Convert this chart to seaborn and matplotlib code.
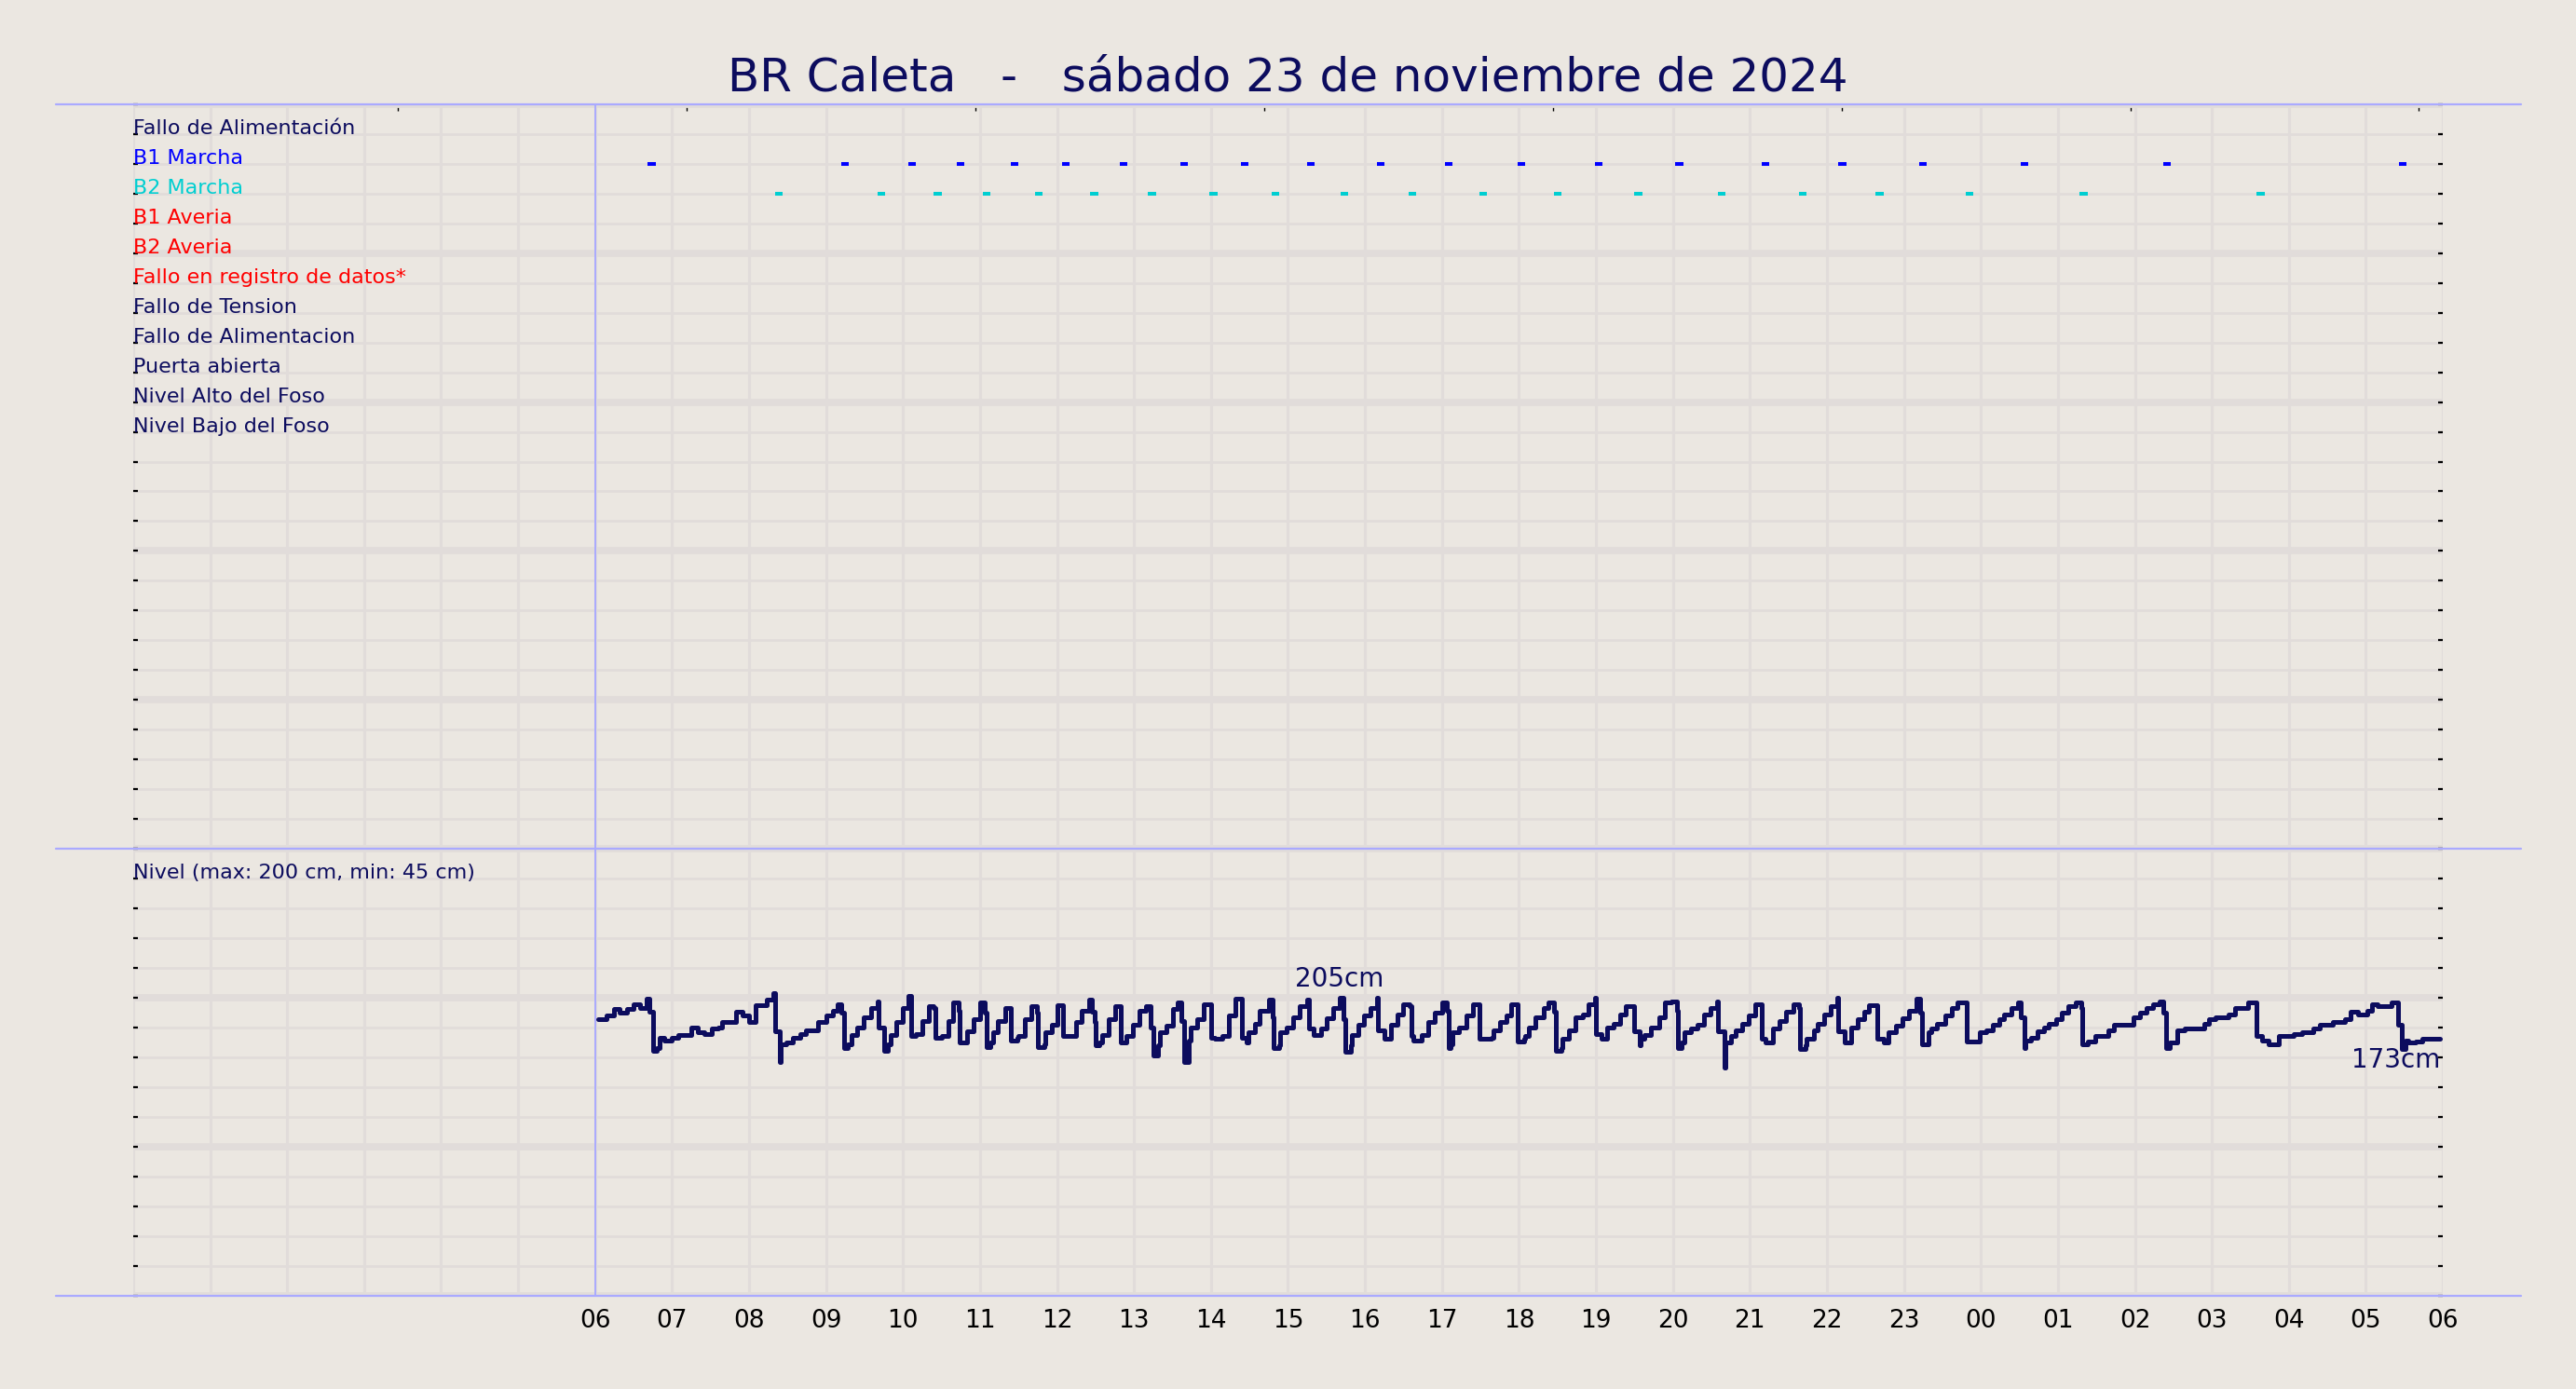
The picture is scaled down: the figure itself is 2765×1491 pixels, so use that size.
import numpy as np
import pandas as pd
import matplotlib
matplotlib.use('Agg')
import matplotlib.pyplot as plt
from matplotlib.lines import Line2D
import seaborn as sns

BG = '#ebe7e1'
GRID = '#e1dcda'
NAVY = '#0c0c5e'
LIGHT_BLUE = '#aaaaff'

title = 'BR Caleta   -   sábado 23 de noviembre de 2024'

signal_names = ['Fallo de Alimentación', 'B1 Marcha', 'B2 Marcha', 'B1 Averia', 'B2 Averia',
                'Fallo en registro de datos*', 'Fallo de Tension', 'Fallo de Alimentacion',
                'Puerta abierta', 'Nivel Alto del Foso', 'Nivel Bajo del Foso']
signal_colors = [NAVY, 'blue', 'darkturquoise', 'red', 'red', 'red',
                 NAVY, NAVY, NAVY, NAVY, NAVY]

# pump run starts (HH:MM), each run ~6 min
b1_starts = ['06:41', '09:12', '10:04', '10:42', '11:24', '12:04', '12:49', '13:36', '14:23',
             '15:15', '16:09', '17:02', '17:59', '18:59', '20:02', '21:09', '22:09', '23:12',
             '00:31', '02:22', '05:26']
b2_starts = ['08:20', '09:40', '10:24', '11:02', '11:43', '12:26', '13:11', '13:59', '14:47',
             '15:41', '16:34', '17:29', '18:27', '19:30', '20:35', '21:38', '22:38', '23:48',
             '01:17', '03:35']
run_minutes = 6

level_times = [
    '06:02', '06:09', '06:15', '06:19', '06:25', '06:30', '06:35', '06:40', '06:42', '06:45',
    '06:48', '06:50', '06:54', '07:00', '07:05', '07:15', '07:20', '07:25', '07:31', '07:36',
    '07:39', '07:50', '07:55', '08:00', '08:05', '08:14', '08:19', '08:20', '08:24', '08:25',
    '08:29', '08:34', '08:40', '08:44', '08:54', '09:00', '09:05', '09:09', '09:12', '09:14',
    '09:17', '09:20', '09:24', '09:29', '09:35', '09:40', '09:41', '09:45', '09:48', '09:50',
    '09:55', '10:00', '10:04', '10:06', '10:10', '10:15', '10:20', '10:24', '10:25', '10:30',
    '10:35', '10:39', '10:43', '10:44', '10:50', '10:55', '11:00', '11:04', '11:05', '11:08',
    '11:10', '11:14', '11:20', '11:24', '11:29', '11:30', '11:35', '11:40', '11:44', '11:45',
    '11:50', '11:51', '11:56', '12:00', '12:05', '12:15', '12:19', '12:25', '12:27', '12:29',
    '12:30', '12:33', '12:35', '12:40', '12:45', '12:50', '12:54', '12:59', '13:04', '13:09',
    '13:13', '13:15', '13:19', '13:20', '13:25', '13:30', '13:34', '13:37', '13:39', '13:43',
    '13:44', '13:49', '13:54', '14:00', '14:03', '14:09', '14:14', '14:19', '14:24', '14:28',
    '14:29', '14:34', '14:38', '14:45', '14:48', '14:49', '14:53', '14:54', '14:59', '15:04',
    '15:09', '15:15', '15:16', '15:20', '15:26', '15:30', '15:35', '15:40', '15:43', '15:45',
    '15:49', '15:50', '15:55', '15:59', '16:04', '16:09', '16:10', '16:15', '16:20', '16:25',
    '16:30', '16:35', '16:36', '16:38', '16:44', '16:49', '16:54', '17:00', '17:04', '17:05',
    '17:07', '17:08', '17:13', '17:19', '17:24', '17:29', '17:39', '17:40', '17:45', '17:50',
    '17:54', '17:59', '18:04', '18:05', '18:08', '18:13', '18:19', '18:23', '18:27', '18:29',
    '18:33', '18:34', '18:39', '18:44', '18:50', '18:54', '18:59', '19:00', '19:04', '19:09',
    '19:14', '19:19', '19:23', '19:30', '19:34', '19:35', '19:38', '19:43', '19:49', '19:54',
    '19:59', '20:03', '20:04', '20:07', '20:09', '20:14', '20:19', '20:24', '20:29', '20:34',
    '20:35', '20:40', '20:41', '20:45', '20:49', '20:54', '20:59', '21:04', '21:09', '21:12',
    '21:18', '21:23', '21:28', '21:34', '21:38', '21:39', '21:43', '21:44', '21:50', '21:53',
    '21:58', '22:03', '22:08', '22:09', '22:14', '22:19', '22:24', '22:29', '22:33', '22:39',
    '22:44', '22:48', '22:54', '22:59', '23:04', '23:10', '23:13', '23:14', '23:19', '23:21',
    '23:26', '23:32', '23:37', '23:42', '23:49', '23:59', '00:04', '00:09', '00:14', '00:18',
    '00:24', '00:29', '00:31', '00:34', '00:35', '00:39', '00:44', '00:49', '00:53', '00:59',
    '01:03', '01:08', '01:14', '01:18', '01:19', '01:23', '01:29', '01:39', '01:44', '01:59',
    '02:04', '02:09', '02:14', '02:19', '02:22', '02:24', '02:27', '02:33', '02:39', '02:54',
    '02:58', '03:03', '03:13', '03:18', '03:28', '03:35', '03:39', '03:44', '03:52', '04:04',
    '04:10', '04:19', '04:24', '04:34', '04:44', '04:48', '04:54', '05:01', '05:05', '05:09',
    '05:20', '05:25', '05:28', '05:31', '05:33', '05:39', '05:44', '05:58']
level_cm = [
    188, 191, 196, 193, 196, 200, 197, 204, 194, 164,
    166, 174, 172, 174, 176, 182, 178, 177, 181, 182,
    186, 194, 191, 186, 199, 203, 208, 179, 155, 169,
    170, 174, 177, 180, 186, 191, 195, 200, 193, 166,
    169, 176, 182, 190, 197, 202, 182, 164, 169, 176,
    186, 197, 206, 175, 177, 187, 198, 197, 174, 175,
    187, 201, 195, 170, 179, 188, 201, 193, 167, 170,
    178, 187, 197, 172, 174, 175, 188, 198, 193, 167,
    169, 178, 184, 199, 175, 186, 195, 203, 194, 186,
    168, 170, 176, 188, 198, 170, 175, 184, 195, 198,
    182, 160, 168, 178, 183, 196, 201, 187, 155, 172,
    182, 188, 200, 174, 173, 175, 191, 204, 174, 170,
    178, 185, 195, 203, 190, 166, 168, 178, 182, 190,
    198, 203, 181, 176, 181, 189, 197, 205, 188, 163,
    168, 176, 184, 191, 197, 205, 180, 173, 184, 192,
    200, 198, 175, 172, 176, 186, 193, 201, 195, 166,
    169, 178, 182, 191, 200, 173, 174, 180, 186, 191,
    200, 171, 173, 175, 182, 190, 197, 201, 194, 164,
    166, 173, 180, 190, 192, 200, 205, 177, 173, 182,
    185, 192, 198, 179, 168, 173, 176, 182, 190, 201,
    202, 195, 166, 170, 178, 181, 184, 192, 197, 202,
    179, 151, 170, 175, 180, 185, 191, 200, 173, 170,
    181, 187, 194, 200, 197, 165, 168, 173, 180, 185,
    192, 198, 205, 179, 170, 182, 188, 194, 199, 173,
    170, 178, 183, 189, 195, 204, 193, 169, 178, 181,
    185, 191, 197, 201, 171, 178, 180, 184, 188, 192,
    197, 201, 190, 166, 172, 174, 179, 182, 185, 188,
    193, 198, 201, 197, 169, 171, 175, 180, 184, 190,
    193, 197, 200, 202, 193, 166, 170, 180, 181, 185,
    188, 190, 192, 197, 201, 175, 172, 169, 175, 177,
    178, 181, 184, 186, 188, 194, 192, 195, 200, 198,
    201, 184, 165, 172, 170, 171, 173, 173]

peak_label_time = '15:40'
level_caption = 'Nivel (max: 200 cm, min: 45 cm)'

hour_ticks = list(range(6, 31))
hour_labels = ['06', '07', '08', '09', '10', '11', '12', '13', '14', '15', '16', '17', '18',
               '19', '20', '21', '22', '23', '00', '01', '02', '03', '04', '05', '06']
top_tick_hours = [3.44, 7.19, 10.94, 14.69, 18.44, 22.19, 25.94, 29.69]


def to_hours(t):
    h, m = (int(v) for v in t.split(':'))
    if h < 6:
        h += 24
    return h + m / 60


sns.set_style('white', rc={'axes.facecolor': BG, 'figure.facecolor': BG,
                           'grid.color': GRID, 'axes.edgecolor': BG})

fig = plt.figure(figsize=(13.825, 7.455), dpi=200)
ax1 = fig.add_axes([0.0517, 0.3890, 0.8966, 0.5359])
ax2 = fig.add_axes([0.0517, 0.0671, 0.8966, 0.3219])

n_rows_top = 25
n_rows_bot = 15
level_lim = (-24, 319)
rows_bot = np.linspace(level_lim[1], level_lim[0], n_rows_bot + 1)

for ax in (ax1, ax2):
    ax.set_xlim(0, 30)
    ax.set_xticks(np.arange(0, 31), minor=True)
    ax.xaxis.remove_overlapping_locs = False
    ax.set_axisbelow(True)
    for s in ax.spines.values():
        s.set_visible(False)
    ax.grid(which='minor', axis='x', color=GRID, lw=1.1)
    ax.grid(which='minor', axis='y', color=GRID, lw=1.0)
    ax.grid(which='major', axis='y', color=GRID, lw=2.8)
    ax.grid(which='major', axis='x', visible=False)
    ax.tick_params(axis='y', which='both', direction='in', left=True, right=True,
                   length=1.8, width=0.8, color='black', labelleft=False, labelright=False)
    ax.tick_params(axis='x', which='minor', length=0)
    ax.axvline(6, color=LIGHT_BLUE, lw=0.7, zorder=1)

# top panel: signals
ax1.set_ylim(n_rows_top, 0)
ax1.set_yticks(np.arange(0, n_rows_top + 1, 5))
ax1.set_yticks(np.arange(0, n_rows_top + 1), minor=True)
ax1.set_xticks(top_tick_hours)
ax1.tick_params(axis='x', which='major', top=True, bottom=False, direction='in',
                length=2.5, width=0.5, color='black', labeltop=False, labelbottom=False)

for i, (name, col) in enumerate(zip(signal_names, signal_colors)):
    ax1.text(0, i + 1, name, ha='left', va='baseline', fontsize=8.0, color=col)

runs = pd.DataFrame({'start': [to_hours(t) for t in b1_starts + b2_starts],
                     'row': [2] * len(b1_starts) + [3] * len(b2_starts)})
runs['end'] = runs['start'] + run_minutes / 60
for row, col in [(2, 'blue'), (3, 'darkturquoise')]:
    r = runs[runs['row'] == row]
    ax1.hlines(r['row'], r['start'], r['end'], color=col, lw=1.45, capstyle='butt', zorder=3)

# bottom panel: level
lvl = pd.DataFrame({'hour': [to_hours(t) for t in level_times], 'level': level_cm})
ax2.set_ylim(*level_lim)
ax2.set_yticks(rows_bot[::5])
ax2.set_yticks(rows_bot, minor=True)
ax2.set_xticks(hour_ticks)
ax2.set_xticklabels(hour_labels)
ax2.tick_params(axis='x', which='major', length=0, pad=5, labelsize=9.5, labelcolor='black')

sns.lineplot(data=lvl, x='hour', y='level', ax=ax2, color=NAVY, lw=1.8,
             drawstyle='steps-post', estimator=None, zorder=3)
ax2.set_xlabel('')
ax2.set_ylabel('')
ax2.set_xlim(0, 30)
ax2.set_ylim(*level_lim)

ax2.text(0, rows_bot[1], level_caption, ha='left', va='baseline', fontsize=8.0, color=NAVY)

pk = lvl[lvl['hour'] == to_hours(peak_label_time)].iloc[0]
ax2.annotate(f"{pk['level']:.0f}cm", (pk['hour'], pk['level']), xytext=(0, 4.3),
             textcoords='offset points', ha='center', va='baseline', fontsize=10, color=NAVY)
last = lvl.iloc[-1]
ax2.annotate(f"{last['level']:.0f}cm", (last['hour'], last['level']), xytext=(0, -11),
             textcoords='offset points', ha='right', va='baseline', fontsize=10, color=NAVY)

# light separator lines across the figure
for y in (ax1.get_position().y1, ax1.get_position().y0, ax2.get_position().y0):
    fig.add_artist(Line2D([0.0217, 0.9787], [y, y], color=LIGHT_BLUE, lw=0.8,
                          transform=fig.transFigure))

fig.text(0.5, 0.9347, title, ha='center', va='baseline', fontsize=18, color=NAVY)

fig.savefig('out.png', dpi=200, facecolor=BG)
